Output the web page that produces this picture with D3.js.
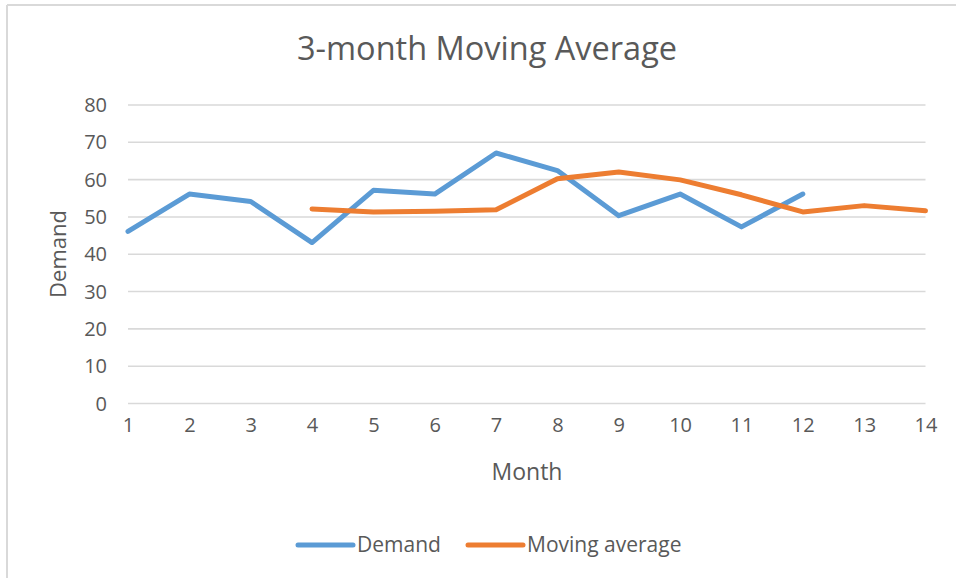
<!DOCTYPE html>
<html>
<head>
<meta charset="utf-8">
<script src="https://cdn.jsdelivr.net/npm/d3@7"></script>
<style>
  html, body { margin: 0; padding: 0; background: #fff; }
  svg { display: block; }
  text { font-family: "Open Sans", "Noto Sans", sans-serif; fill: #595959; }
</style>
</head>
<body>
<svg id="chart" width="956" height="578"></svg>
<script>
const months = [1, 2, 3, 4, 5, 6, 7, 8, 9, 10, 11, 12, 13, 14];
const demand = [46, 56, 54, 43, 57, 56, 67, 62.3, 50.2, 56, 47.2, 56];
const demandMonths = [1, 2, 3, 4, 5, 6, 7, 8, 9, 10, 11, 12];
const movingAverage = [52, 51.2, 51.4, 51.8, 60.1, 61.9, 59.8, 55.8, 51.2, 52.9, 51.5];
const maMonths = [4, 5, 6, 7, 8, 9, 10, 11, 12, 13, 14];
const yTicks = [0, 10, 20, 30, 40, 50, 60, 70, 80];
const seriesNames = ["Demand", "Moving average"];
const colors = ["#5B9BD5", "#ED7D31"];
const title = "3-month Moving Average";
const xTitle = "Month";
const yTitle = "Demand";

const svg = d3.select("#chart");
const mLeft = 128, mRight = 925.5, mTop = 104.5, mBottom = 403;

// outer border (top and left visible)
svg.append("line").attr("x1", 7).attr("x2", 956).attr("y1", 5).attr("y2", 5)
  .attr("stroke", "#d9d9d9").attr("stroke-width", 2);
svg.append("line").attr("x1", 7).attr("x2", 7).attr("y1", 5).attr("y2", 578)
  .attr("stroke", "#d9d9d9").attr("stroke-width", 2);

const x = d3.scaleLinear().domain([1, 14]).range([mLeft, mRight]);
const y = d3.scaleLinear().domain([0, 80]).range([mBottom, mTop]);

// gridlines
const yAxis = d3.axisLeft(y).tickValues(yTicks).tickSize(-(mRight - mLeft)).tickPadding(21);
const gy = svg.append("g").attr("transform", `translate(${mLeft},0)`).call(yAxis);
gy.select(".domain").remove();
gy.selectAll(".tick line").attr("stroke", "#d9d9d9").attr("stroke-width", 1.6);
gy.selectAll(".tick text").attr("font-size", 20).attr("fill", "#595959")
  .attr("font-family", "Open Sans").attr("dy", "0.35em");

const xAxis = d3.axisBottom(x).tickValues(months).tickSize(0).tickPadding(22);
const gx = svg.append("g").attr("transform", `translate(0,${mBottom})`).call(xAxis);
gx.select(".domain").remove();
gx.selectAll(".tick text").attr("font-size", 20).attr("fill", "#595959")
  .attr("font-family", "Open Sans").attr("dy", "0.35em");

const line = d3.line().x(d => x(d[0])).y(d => y(d[1]));

svg.append("path")
  .datum(demandMonths.map((m, i) => [m, demand[i]]))
  .attr("d", line).attr("fill", "none").attr("stroke", colors[0])
  .attr("stroke-width", 5).attr("stroke-linejoin", "round").attr("stroke-linecap", "round");

svg.append("path")
  .datum(maMonths.map((m, i) => [m, movingAverage[i]]))
  .attr("d", line).attr("fill", "none").attr("stroke", colors[1])
  .attr("stroke-width", 5).attr("stroke-linejoin", "round").attr("stroke-linecap", "round");

// title
svg.append("text").attr("x", 487).attr("y", 60).attr("text-anchor", "middle")
  .attr("font-size", 32.5).text(title);

// axis titles
svg.append("text").attr("x", 527).attr("y", 480).attr("text-anchor", "middle")
  .attr("font-size", 23).text(xTitle);
svg.append("text").attr("transform", "translate(66,254) rotate(-90)")
  .attr("text-anchor", "middle").attr("font-size", 22).text(yTitle);

// legend
const legendX = [298, 468];
seriesNames.forEach((name, i) => {
  svg.append("line").attr("x1", legendX[i]).attr("x2", legendX[i] + 55)
    .attr("y1", 545).attr("y2", 545).attr("stroke", colors[i])
    .attr("stroke-width", 5).attr("stroke-linecap", "round");
  svg.append("text").attr("x", legendX[i] + 59).attr("y", 552)
    .attr("font-size", 21).text(name);
});
</script>
</body>
</html>
